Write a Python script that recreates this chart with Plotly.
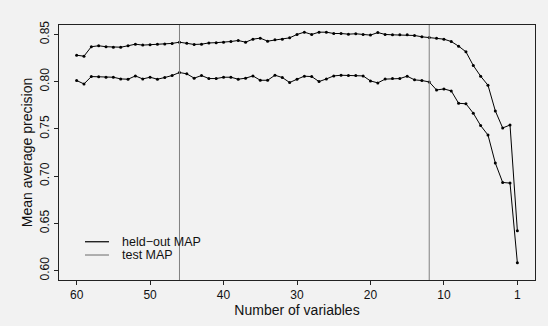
import plotly.graph_objects as go

# Number-of-variables positions (61 steps, last step labelled "1")
x_pos = list(range(60, -1, -1))
x_ticks = [60, 50, 40, 30, 20, 10, 0]
x_tick_labels = ["60", "50", "40", "30", "20", "10", "1"]
y_ticks = [0.60, 0.65, 0.70, 0.75, 0.80, 0.85]
y_tick_labels = ["0.60", "0.65", "0.70", "0.75", "0.80", "0.85"]

held_out_map = [
    0.828, 0.827, 0.837, 0.838, 0.837, 0.8365, 0.8365, 0.838, 0.8397, 0.8387,
    0.839, 0.8397, 0.840, 0.8405, 0.8418, 0.8408, 0.8394, 0.8397, 0.841, 0.8413,
    0.8418, 0.8425, 0.8436, 0.8418, 0.845, 0.8461, 0.8429, 0.8443, 0.845, 0.8464,
    0.850, 0.8524, 0.850, 0.8524, 0.8524, 0.851, 0.851, 0.8503, 0.8507, 0.850,
    0.8493, 0.852, 0.850, 0.8496, 0.8496, 0.8496, 0.8489, 0.8475, 0.8468, 0.8461,
    0.845, 0.8425, 0.8376, 0.8316, 0.8171, 0.8058, 0.7962, 0.769, 0.751, 0.7541,
    0.6421,
]
test_map = [
    0.8012, 0.7976, 0.8054, 0.8051, 0.8047, 0.8047, 0.8029, 0.8026, 0.8061, 0.8029,
    0.8047, 0.8026, 0.8044, 0.8065, 0.8097, 0.8083, 0.8037, 0.8065, 0.8033, 0.8033,
    0.8047, 0.8047, 0.8026, 0.8037, 0.8061, 0.8015, 0.8015, 0.8068, 0.8044, 0.7991,
    0.8026, 0.8058, 0.8054, 0.8001, 0.8029, 0.8061, 0.8068, 0.8065, 0.8065, 0.8061,
    0.8008, 0.7987, 0.8027, 0.8033, 0.8033, 0.8058, 0.8019, 0.8012, 0.7997, 0.7912,
    0.7923, 0.7902, 0.7771, 0.7766, 0.7666, 0.7535, 0.7435, 0.7138, 0.6933, 0.6926,
    0.6082,
]
cutoffs = [46, 12]
legend_labels = ["held\u2212out MAP", "test MAP"]
legend_colors = ["#000000", "#808080"]

FONT = "Liberation Sans, Arial, sans-serif"
BG = "#f2f2f2"

fig = go.Figure()
for series in (held_out_map, test_map):
    fig.add_trace(go.Scatter(
        x=x_pos, y=series, mode="lines+markers",
        line=dict(color="#000000", width=1),
        marker=dict(color="#000000", size=3),
        showlegend=False, hoverinfo="skip",
    ))

shapes = []
for c in cutoffs:
    shapes.append(dict(type="line", xref="x", yref="paper", x0=c, x1=c, y0=0, y1=1,
                       line=dict(color="#808080", width=1)))

# Legend drawn in the lower-left corner of the plotting box
annotations = []
leg_y = [0.150, 0.098]
for lbl, col, yy in zip(legend_labels, legend_colors, leg_y):
    shapes.append(dict(type="line", xref="paper", yref="paper", x0=0.0546, x1=0.105,
                       y0=yy, y1=yy, line=dict(color=col, width=1.2)))
    annotations.append(dict(xref="paper", yref="paper", x=0.128, y=yy, text=lbl,
                            showarrow=False, xanchor="left", yanchor="middle",
                            font=dict(family=FONT, size=12.5, color="#111111")))

fig.update_layout(
    width=548, height=326,
    margin=dict(l=59, r=13, t=25, b=46),
    paper_bgcolor=BG, plot_bgcolor=BG,
    shapes=shapes, annotations=annotations,
    font=dict(family=FONT, color="#111111"),
)
fig.update_xaxes(
    range=[62.4, -2.4], tickvals=x_ticks, ticktext=x_tick_labels,
    showgrid=False, zeroline=False, showline=True, mirror=True,
    linecolor="#222222", linewidth=1, ticks="outside", ticklen=4, tickcolor="#222222",
    tickfont=dict(family=FONT, size=12),
    title=dict(text="Number of variables", font=dict(family=FONT, size=14), standoff=2),
)
fig.update_yaxes(
    range=[0.59, 0.86], tickvals=y_ticks, ticktext=y_tick_labels, tickangle=-90,
    showgrid=False, zeroline=False, showline=True, mirror=True,
    linecolor="#222222", linewidth=1, ticks="outside", ticklen=4, tickcolor="#222222",
    tickfont=dict(family=FONT, size=12),
    title=dict(text="Mean average precision", font=dict(family=FONT, size=14), standoff=2),
)

fig.write_html("out.html")
